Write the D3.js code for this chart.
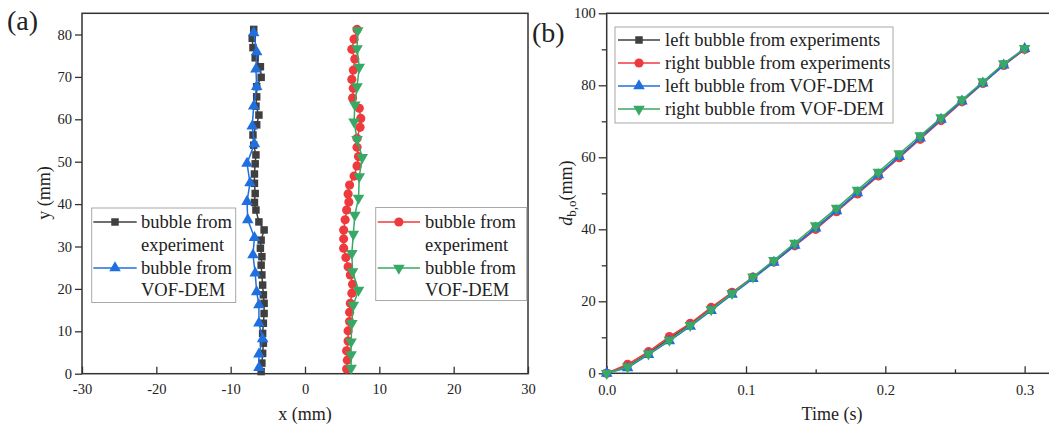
<!DOCTYPE html>
<html>
<head>
<meta charset="utf-8">
<script src="https://cdn.jsdelivr.net/npm/d3@7"></script>
<style>
  body { margin: 0; background: #fff; }
  text { font-family: "Liberation Serif", "Times New Roman", serif; fill: #222; }
</style>
</head>
<body>
<svg id="chart" width="1049" height="426"></svg>
<script>
// ---- panel (a): bubble paths, x (mm) vs y (mm) ----
const leftExpX = [-5.9, -5.8, -5.7, -5.6, -5.7, -5.6, -5.5, -5.5, -5.6, -5.7, -5.8, -5.9, -5.8, -6.0, -5.9, -5.5, -6.2, -6.6, -6.8, -6.7, -6.8, -6.8, -6.7, -6.6, -6.9, -7.0, -6.5, -6.2, -6.6, -6.5, -6.5, -5.9, -6.0, -6.7, -7.0, -7.1, -6.9];
const leftExpY = [0.5, 2.5, 4.8, 7.2, 9.5, 11.9, 14.2, 16.6, 18.6, 20.9, 23.3, 25.6, 27.6, 29.6, 31.5, 33.9, 35.8, 38.6, 40.4, 42.5, 44.9, 47.1, 49.5, 51.6, 53.9, 56.3, 58.7, 61.0, 63.1, 65.3, 67.7, 69.9, 72.4, 74.5, 76.9, 79.1, 81.2];

const leftVofX = [-6.2, -6.2, -5.7, -6.2, -6.2, -6.5, -6.7, -7.0, -6.8, -7.7, -7.8, -7.4, -7.8, -6.8, -7.1, -6.9, -6.5, -6.6, -6.5, -6.9];
const leftVofY = [1.4, 4.6, 8.2, 11.9, 16.2, 19.3, 23.7, 28.0, 32.1, 36.3, 40.6, 45.0, 49.6, 54.2, 58.4, 63.1, 67.7, 71.8, 75.9, 80.4];

const rightExpX = [5.6, 5.7, 5.6, 5.8, 5.8, 6.0, 6.0, 6.1, 6.3, 6.4, 6.1, 5.8, 5.5, 5.2, 5.2, 5.2, 5.4, 5.6, 5.9, 5.8, 6.0, 6.6, 7.0, 7.2, 7.0, 7.0, 7.4, 7.5, 7.3, 6.4, 6.5, 6.3, 6.5, 6.7, 6.3, 6.6, 7.0];
const rightExpY = [1.1, 3.2, 5.4, 7.7, 10.1, 12.3, 14.5, 16.6, 19.0, 21.1, 23.3, 25.2, 27.4, 29.6, 31.8, 33.9, 36.3, 38.6, 40.5, 42.4, 44.5, 46.6, 49.0, 51.2, 53.4, 55.5, 58.1, 60.2, 62.6, 65.0, 67.3, 69.4, 71.6, 74.2, 76.5, 78.9, 81.2];

const rightVofX = [6.2, 6.2, 6.2, 6.3, 6.5, 7.2, 6.4, 6.3, 6.5, 6.7, 7.2, 7.3, 7.7, 7.0, 6.6, 6.7, 7.0, 7.3, 7.0, 7.1];
const rightVofY = [1.3, 4.5, 7.5, 11.9, 16.2, 19.7, 24.1, 28.4, 32.9, 37.4, 41.4, 46.5, 51.0, 55.3, 59.4, 63.4, 67.7, 72.3, 76.7, 80.9];

const xTicksA = [-30, -20, -10, 0, 10, 20, 30];
const yTicksA = [0, 10, 20, 30, 40, 50, 60, 70, 80];

// ---- panel (b): d_b,o (mm) vs time (s) ----
const timeS = [0, 0.015, 0.03, 0.045, 0.06, 0.075, 0.09, 0.105, 0.12, 0.135, 0.15, 0.165, 0.18, 0.195, 0.21, 0.225, 0.24, 0.255, 0.27, 0.285, 0.3];
const dLeftExp  = [0, 2.0, 5.6, 9.6, 13.6, 17.9, 22.3, 26.6, 31.0, 35.6, 40.4, 45.2, 50.2, 55.2, 60.3, 65.4, 70.6, 75.7, 80.7, 85.8, 90.0];
const dRightExp = [0, 2.5, 6.0, 10.2, 13.9, 18.3, 22.5, 26.7, 30.9, 35.4, 40.0, 44.9, 49.8, 54.8, 59.9, 65.0, 70.2, 75.4, 80.5, 85.5, 90.0];
const dLeftVof  = [0, 1.5, 5.2, 9.0, 13.0, 17.4, 21.9, 26.3, 30.8, 35.5, 40.3, 45.1, 50.1, 55.1, 60.2, 65.3, 70.5, 75.6, 80.6, 85.6, 90.2];
const dRightVof = [0, 1.8, 5.4, 9.2, 13.3, 17.7, 22.2, 26.8, 31.4, 36.2, 41.0, 45.9, 50.9, 55.9, 61.0, 66.0, 71.0, 76.0, 81.0, 86.0, 90.3];

const xTicksB = [0, 0.1, 0.2, 0.3];
const xMinorB = [0.05, 0.15, 0.25];
const yTicksB = [0, 20, 40, 60, 80, 100];
const yMinorB = [10, 30, 50, 70, 90];

const colors = { black: '#3f3f3f', red: '#ee3a3c', blue: '#1f6fdf', green: '#38a965' };
const axisColor = '#333';
const sizes = { square: 56, circle: 66, triangle: 58 };

const svg = d3.select('#chart');

const xA = d3.scaleLinear().domain([-30, 30]).range([82, 528]);
const yA = d3.scaleLinear().domain([0, 85]).range([373.7, 13.3]);
const xB = d3.scaleLinear().domain([0, 0.32]).range([606.7, 1052.5]);
const yB = d3.scaleLinear().domain([0, 100]).range([373.3, 13.3]);

function styleAxis(g) {
    g.select('.domain').remove();
    g.selectAll('line').attr('stroke', axisColor).attr('stroke-width', 1.3);
    g.selectAll('text').style('font-size', '14.5px').attr('fill', '#222');
}

function frame(x, y) {
    svg.append('rect')
        .attr('x', x.range()[0]).attr('y', y.range()[1])
        .attr('width', x.range()[1] - x.range()[0])
        .attr('height', y.range()[0] - y.range()[1])
        .attr('fill', 'none').attr('stroke', axisColor).attr('stroke-width', 1.5);
}

function drawSeries(x, y, xs, ys, color, symbol, size, flip) {
    const pts = xs.map((v, i) => [v, ys[i]]);
    const g = svg.append('g');
    g.append('path').datum(pts)
        .attr('d', d3.line().x(d => x(d[0])).y(d => y(d[1])))
        .attr('fill', 'none').attr('stroke', color).attr('stroke-width', 1.5);
    g.selectAll(null).data(pts).enter().append('path')
        .attr('transform', d => `translate(${x(d[0])},${y(d[1])})` + (flip ? ' rotate(180)' : ''))
        .attr('d', d3.symbol(symbol, size))
        .attr('fill', color);
}

function legendBox(x0, y0, x1, y1) {
    svg.append('rect').attr('x', x0).attr('y', y0).attr('width', x1 - x0).attr('height', y1 - y0)
        .attr('fill', '#fff').attr('stroke', '#a8a8a8').attr('stroke-width', 1);
}

function legendSample(x0, x1, y, color, symbol, size, flip) {
    svg.append('line').attr('x1', x0).attr('x2', x1).attr('y1', y).attr('y2', y)
        .attr('stroke', color).attr('stroke-width', 1.5);
    svg.append('path')
        .attr('transform', `translate(${(x0 + x1) / 2},${y})` + (flip ? ' rotate(180)' : ''))
        .attr('d', d3.symbol(symbol, size)).attr('fill', color);
}

function legendText(x, y, txt) {
    svg.append('text').attr('x', x).attr('y', y).attr('dy', '0.33em')
        .style('font-size', '18.5px').text(txt);
}

// plain hyphen for negatives, like the original
const plain = d => String(d);

// ================= panel (a) =================
svg.append('g').attr('transform', 'translate(0,373.7)')
    .call(d3.axisBottom(xA).tickValues(xTicksA).tickSize(-7).tickPadding(10).tickFormat(plain))
    .call(styleAxis);
svg.append('g').attr('transform', 'translate(82,0)')
    .call(d3.axisLeft(yA).tickValues(yTicksA).tickSize(7).tickPadding(3).tickFormat(plain))
    .call(styleAxis);
frame(xA, yA);

legendBox(91.7, 208, 235.7, 302.5);
legendSample(93.3, 136.7, 222, colors.black, d3.symbolSquare, sizes.square, false);
legendSample(93.3, 136.7, 268, colors.blue, d3.symbolTriangle, sizes.triangle, false);
legendText(141, 222, 'bubble from');
legendText(141, 245, 'experiment');
legendText(141, 268, 'bubble from');
legendText(141, 290, 'VOF-DEM');

legendBox(375.7, 207.5, 526.7, 300.5);
legendSample(377.7, 420, 222, colors.red, d3.symbolCircle, sizes.circle, false);
legendSample(377.7, 420, 268, colors.green, d3.symbolTriangle, sizes.triangle, true);
legendText(425, 222, 'bubble from');
legendText(425, 245, 'experiment');
legendText(425, 268, 'bubble from');
legendText(425, 290, 'VOF-DEM');

drawSeries(xA, yA, leftExpX, leftExpY, colors.black, d3.symbolSquare, sizes.square, false);
drawSeries(xA, yA, leftVofX, leftVofY, colors.blue, d3.symbolTriangle, sizes.triangle, false);
drawSeries(xA, yA, rightExpX, rightExpY, colors.red, d3.symbolCircle, sizes.circle, false);
drawSeries(xA, yA, rightVofX, rightVofY, colors.green, d3.symbolTriangle, sizes.triangle, true);

svg.append('text').attr('x', 305).attr('y', 420).attr('text-anchor', 'middle')
    .style('font-size', '18px').text('x (mm)');
svg.append('text').attr('transform', 'translate(50,193) rotate(-90)').attr('text-anchor', 'middle')
    .style('font-size', '18px').text('y (mm)');
svg.append('text').attr('x', 7).attr('y', 30).style('font-size', '28px').text('(a)');

// ================= panel (b) =================
svg.append('g').attr('transform', 'translate(0,373.3)')
    .call(d3.axisBottom(xB).tickValues(xTicksB).tickSize(-7).tickPadding(11).tickFormat(d3.format('.1f')))
    .call(styleAxis);
svg.append('g').attr('transform', 'translate(0,373.3)')
    .call(d3.axisBottom(xB).tickValues(xMinorB).tickSize(-4).tickFormat(''))
    .call(styleAxis);
svg.append('g').attr('transform', 'translate(606.7,0)')
    .call(d3.axisLeft(yB).tickValues(yTicksB).tickSize(8).tickPadding(3).tickFormat(plain))
    .call(styleAxis);
svg.append('g').attr('transform', 'translate(606.7,0)')
    .call(d3.axisLeft(yB).tickValues(yMinorB).tickSize(5).tickFormat(''))
    .call(styleAxis);
frame(xB, yB);

drawSeries(xB, yB, timeS, dLeftExp, colors.black, d3.symbolSquare, sizes.square, false);
drawSeries(xB, yB, timeS, dRightExp, colors.red, d3.symbolCircle, sizes.circle, false);
drawSeries(xB, yB, timeS, dLeftVof, colors.blue, d3.symbolTriangle, sizes.triangle, false);
drawSeries(xB, yB, timeS, dRightVof, colors.green, d3.symbolTriangle, sizes.triangle, true);

legendBox(615, 27, 893, 123);
const legendB = [
    ['left bubble from experiments', colors.black, d3.symbolSquare, sizes.square, false],
    ['right bubble from experiments', colors.red, d3.symbolCircle, sizes.circle, false],
    ['left bubble from VOF-DEM', colors.blue, d3.symbolTriangle, sizes.triangle, false],
    ['right bubble from VOF-DEM', colors.green, d3.symbolTriangle, sizes.triangle, true]
];
legendB.forEach((r, i) => {
    const yy = 40 + i * 23;
    legendSample(618, 660, yy, r[1], r[2], r[3], r[4]);
    legendText(665, yy, r[0]);
});

svg.append('text').attr('x', 832).attr('y', 420).attr('text-anchor', 'middle')
    .style('font-size', '18px').text('Time (s)');
const yt = svg.append('text').attr('transform', 'translate(572,193) rotate(-90)')
    .attr('text-anchor', 'middle').style('font-size', '18px');
yt.append('tspan').style('font-style', 'italic').text('d');
yt.append('tspan').attr('dy', 4).style('font-size', '13px').text('b,o');
yt.append('tspan').attr('dy', -4).text('(mm)');
svg.append('text').attr('x', 532).attr('y', 42).style('font-size', '28px').text('(b)');
</script>
</body>
</html>
